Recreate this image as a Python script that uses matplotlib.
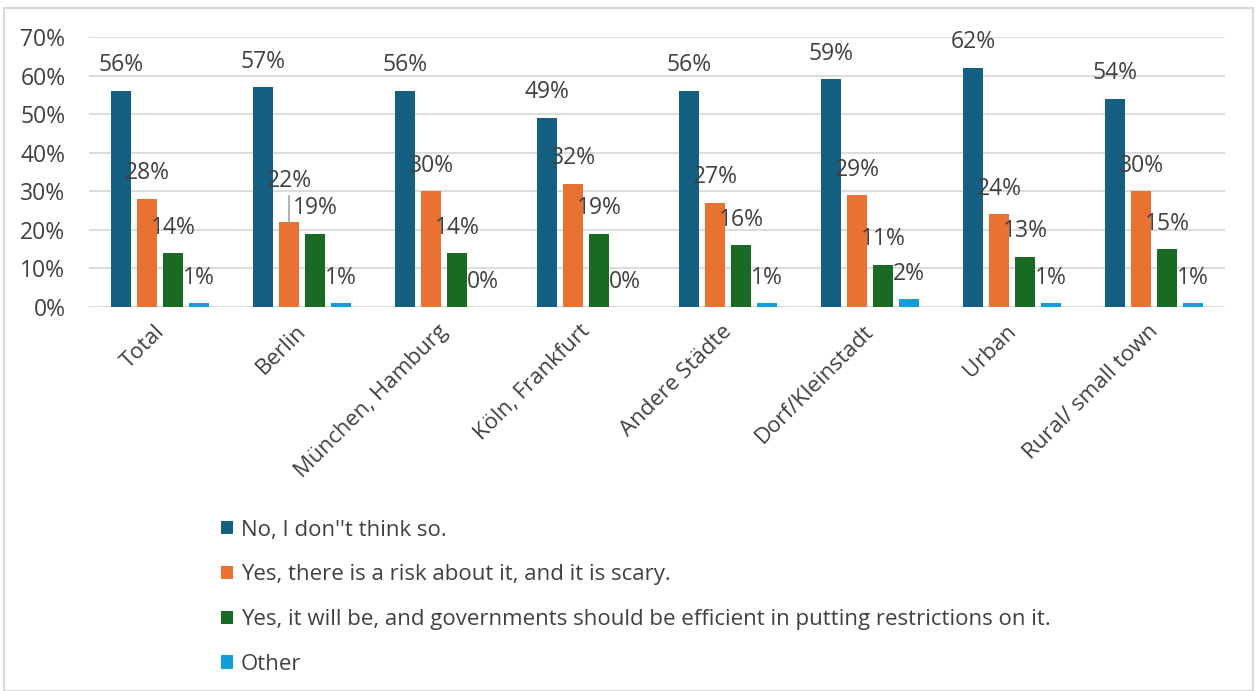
import matplotlib.pyplot as plt
import numpy as np
from matplotlib.patches import Rectangle

categories = ['Total', 'Berlin', 'München, Hamburg', 'Köln, Frankfurt',
              'Andere Städte', 'Dorf/Kleinstadt', 'Urban', 'Rural/ small town']
series_names = ["No, I don''t think so.",
                'Yes, there is a risk about it, and it is scary.',
                'Yes, it will be, and governments should be efficient in putting restrictions on it.',
                'Other']
no_think = [56, 57, 56, 49, 56, 59, 62, 54]
risk_scary = [28, 22, 30, 32, 27, 29, 24, 30]
restrictions = [14, 19, 14, 19, 16, 11, 13, 15]
other = [1, 1, 0, 0, 1, 2, 1, 1]

colors = ['#156082', '#E97132', '#196B24', '#0F9ED5']
text_col = '#404040'

plt.rcParams['font.family'] = ['Open Sans', 'DejaVu Sans']

fig = plt.figure(figsize=(12.57, 6.91), dpi=100)
ax = fig.add_axes([0.0708, 0.5557, 0.9038, 0.3908])

# outer chart border
fig.patches.append(Rectangle((0.003, 0.0), 0.994, 0.988, transform=fig.transFigure,
                             fill=False, edgecolor='#D9D9D9', linewidth=1.5))

x = np.arange(len(categories))
width = 0.14
step = 0.182
all_series = [no_think, risk_scary, restrictions, other]
for i, vals in enumerate(all_series):
    pos = x + (i - 1.5) * step
    ax.bar(pos, np.array(vals) / 100, width, color=colors[i], label=series_names[i], zorder=3)
    for j, v in enumerate(vals):
        off = 0.035
        if categories[j] == 'Berlin' and i == 1:
            # this label sits higher, joined to its bar by a leader line
            off = 0.075
            ax.plot([pos[j], pos[j]], [v / 100 + 0.002, v / 100 + 0.067],
                    color='#A6A6A6', lw=1.2, zorder=4)
        ax.text(pos[j], v / 100 + off, f'{v}%', ha='center', va='bottom',
                fontsize=16.5, color=text_col, zorder=5)

ax.set_ylim(0, 0.70)
ax.set_xlim(-0.5, len(categories) - 0.5)
ax.set_yticks(np.arange(0, 0.71, 0.1))
ax.set_yticklabels([f'{int(round(t * 100))}%' for t in np.arange(0, 0.71, 0.1)])
ax.yaxis.grid(True, color='#D9D9D9', linewidth=1.3, zorder=0)
ax.set_axisbelow(True)
for s in ax.spines.values():
    s.set_visible(False)
ax.tick_params(axis='both', length=0, labelcolor=text_col)
ax.tick_params(axis='y', pad=17, labelsize=16.5)
ax.set_xticks(x - 0.045)
ax.set_xticklabels(categories, rotation=45, ha='right', rotation_mode='anchor')
ax.tick_params(axis='x', pad=10, labelsize=16)

fig.legend(loc='upper left', bbox_to_anchor=(0.160, 0.277), frameon=False,
           fontsize=16, labelcolor=text_col, handlelength=0.55, handleheight=0.55,
           handletextpad=0.33, labelspacing=1.07)

fig.savefig('out.png', dpi=100)
